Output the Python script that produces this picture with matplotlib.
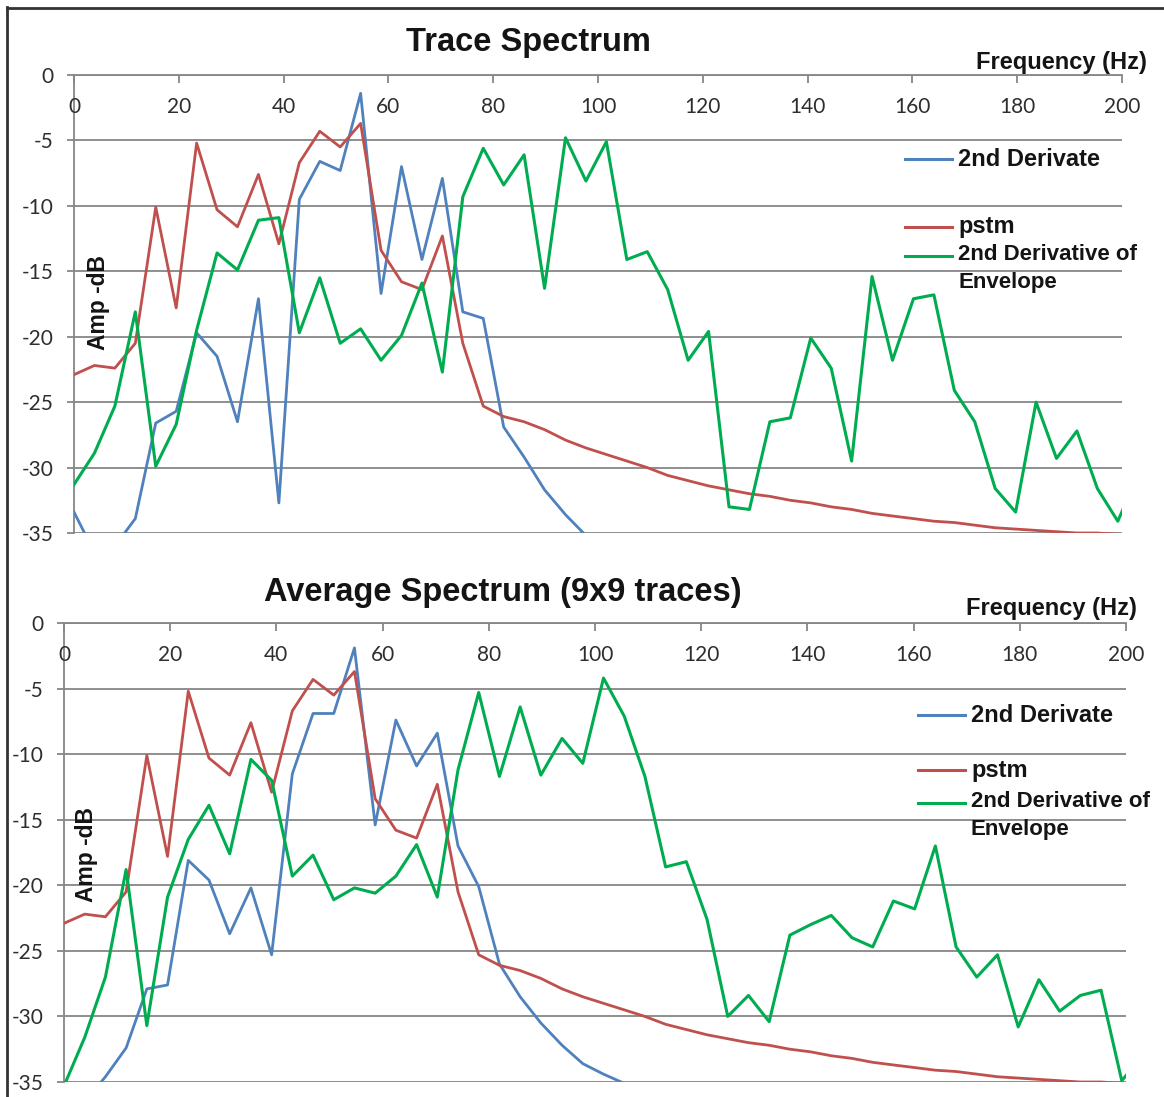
import numpy as np
import matplotlib
matplotlib.use('Agg')
import matplotlib.pyplot as plt
from matplotlib.lines import Line2D

# frequency samples (Hz), spacing ~3.9 Hz
freq = [0.0, 3.9, 7.8, 11.7, 15.6, 19.5, 23.4, 27.3, 31.2, 35.2, 39.1, 43.0,
        46.9, 50.8, 54.7, 58.6, 62.5, 66.4, 70.3, 74.2, 78.1, 82.0, 85.9, 89.8,
        93.8, 97.7, 101.6, 105.5, 109.4, 113.3, 117.2, 121.1, 125.0, 128.9,
        132.8, 136.7, 140.6, 144.5, 148.4, 152.3, 156.2, 160.2, 164.1, 168.0,
        171.9, 175.8, 179.7, 183.6, 187.5, 191.4, 195.3, 199.2, 203.1]

# pstm spectrum (same in both panels)
pstm = [-22.9, -22.2, -22.4, -20.5, -10.1, -17.8, -5.2, -10.3, -11.6, -7.6,
        -12.9, -6.7, -4.3, -5.5, -3.7, -13.4, -15.8, -16.4, -12.3, -20.5,
        -25.3, -26.1, -26.5, -27.1, -27.9, -28.5, -29.0, -29.5, -30.0, -30.6,
        -31.0, -31.4, -31.7, -32.0, -32.2, -32.5, -32.7, -33.0, -33.2, -33.5,
        -33.7, -33.9, -34.1, -34.2, -34.4, -34.6, -34.7, -34.8, -34.9, -35.0,
        -35.0, -35.1, -35.2]

# trace spectrum
deriv_trace = [-33.4, -36.5, -36.0, -33.9, -26.6, -25.7, -19.7, -21.5, -26.5,
               -17.1, -32.7, -9.5, -6.6, -7.3, -1.4, -16.7, -7.0, -14.1, -7.9,
               -18.1, -18.6, -26.9, -29.2, -31.7, -33.6, -35.2]
env_trace = [-31.3, -28.9, -25.3, -18.1, -29.9, -26.7, -19.5, -13.6, -14.9,
             -11.1, -10.9, -19.7, -15.5, -20.5, -19.4, -21.8, -19.9, -15.9,
             -22.7, -9.3, -5.6, -8.4, -6.1, -16.3, -4.8, -8.1, -5.1, -14.1,
             -13.5, -16.4, -21.8, -19.6, -33.0, -33.2, -26.5, -26.2, -20.1,
             -22.4, -29.5, -15.4, -21.8, -17.1, -16.8, -24.1, -26.5, -31.6,
             -33.4, -25.0, -29.3, -27.2, -31.6, -34.1, -30.5]

# average spectrum (9x9 traces)
deriv_avg = [-38.0, -36.5, -34.6, -32.4, -27.9, -27.6, -18.1, -19.6, -23.7,
             -20.2, -25.3, -11.5, -6.9, -6.9, -1.9, -15.4, -7.4, -10.9, -8.4,
             -17.0, -20.1, -26.0, -28.5, -30.5, -32.2, -33.6, -34.4, -35.1]
env_avg = [-35.3, -31.6, -27.0, -18.8, -30.7, -20.9, -16.5, -13.9, -17.6,
           -10.4, -12.0, -19.3, -17.7, -21.1, -20.2, -20.6, -19.3, -16.9,
           -20.9, -11.2, -5.3, -11.7, -6.4, -11.6, -8.8, -10.7, -4.2, -7.1,
           -11.7, -18.6, -18.2, -22.6, -30.0, -28.4, -30.4, -23.8, -23.0,
           -22.3, -24.0, -24.7, -21.2, -21.8, -17.0, -24.7, -27.0, -25.3,
           -30.8, -27.2, -29.6, -28.4, -28.0, -34.9, -33.0]

xticks = list(range(0, 201, 20))
yticks = list(range(-35, 1, 5))
names = ['2nd Derivate', 'pstm', '2nd Derivative of\nEnvelope']

W, H = 1164, 1097
fig = plt.figure(figsize=(W / 100, H / 100), dpi=100)
fig.patch.set_facecolor('white')

def fx(px):
    return px / W

def fy(py):
    return 1 - py / H

BLUE = '#4F81BD'
RED = '#C0504D'
GREEN = '#00AC50'
GRID = '#868686'
TXT = '#141414'
TICKC = '#2E2E2E'
BOLD = dict(family='Liberation Sans', weight='bold', color=TXT)

def panel(box, blue, green, title, title_xy, freq_xy, amp_xy, leg_x, leg_y):
    l, r, t, b = box
    ax = fig.add_axes([fx(l), fy(b), fx(r) - fx(l), fy(t) - fy(b)])
    ax.plot(freq[:len(blue)], blue, color=BLUE, lw=2.0, zorder=3)
    ax.plot(freq, pstm, color=RED, lw=2.0, zorder=4)
    ax.plot(freq, green, color=GREEN, lw=2.2, zorder=5)
    ax.set_xlim(0, 200)
    ax.set_ylim(-35, 0)
    for s in ['right', 'bottom']:
        ax.spines[s].set_visible(False)
    for s in ['left', 'top']:
        ax.spines[s].set_color(GRID)
        ax.spines[s].set_linewidth(1.3)
    ax.set_yticks(yticks)
    ax.set_yticklabels([str(v) for v in yticks])
    ax.grid(axis='y', color=GRID, lw=1.3)
    ax.tick_params(axis='y', direction='out', length=5, width=1.3,
                   color=GRID, pad=10, labelsize=15, labelcolor=TICKC)
    for lab in ax.get_yticklabels():
        lab.set_family('Lato')
    ax.set_xticks(xticks)
    ax.tick_params(axis='x', top=True, bottom=False, labelbottom=False,
                   labeltop=False, direction='in', length=6, width=1.3,
                   color=GRID)
    for v in xticks:
        ax.text(v, -2.45, str(v), ha='center', va='center', fontsize=15,
                family='Lato', color=TICKC)
    fig.text(fx(title_xy[0]), fy(title_xy[1]), title, ha='center',
             va='center', fontsize=23.5, **BOLD)
    fig.text(fx(freq_xy[0]), fy(freq_xy[1]), 'Frequency (Hz)', ha='right',
             va='center', fontsize=17, **BOLD)
    fig.text(fx(amp_xy[0]), fy(amp_xy[1]), 'Amp -dB', rotation=90,
             ha='center', va='center', fontsize=16.5, **BOLD)
    # legend
    cols = [BLUE, RED, GREEN]
    for name, c, yy in zip(names, cols, leg_y):
        fig.add_artist(Line2D([fx(leg_x), fx(leg_x + 47)], [fy(yy), fy(yy)],
                              color=c, lw=2.2))
        if '\n' in name:
            fig.text(fx(leg_x + 53), fy(yy - 12), name, ha='left', va='top',
                     fontsize=16, linespacing=1.45, **BOLD)
        else:
            fig.text(fx(leg_x + 53), fy(yy), name, ha='left', va='center',
                     fontsize=17, **BOLD)
    return ax

panel((74, 1122, 75, 533), deriv_trace, env_trace, 'Trace Spectrum',
      (528, 43), (1147, 62), (99, 303), 905, (159, 227, 256))
panel((64, 1126, 623, 1082), deriv_avg, env_avg,
      'Average Spectrum (9x9 traces)', (503, 592), (1137, 609), (87, 855),
      918, (715, 770, 803))

# outer frame
fig.add_artist(Line2D([fx(7), fx(7)], [fy(7), 0], color='#333333', lw=2))
fig.add_artist(Line2D([fx(7), 1], [fy(8), fy(8)], color='#333333', lw=2))

fig.savefig('out.png', dpi=100, facecolor='white')
